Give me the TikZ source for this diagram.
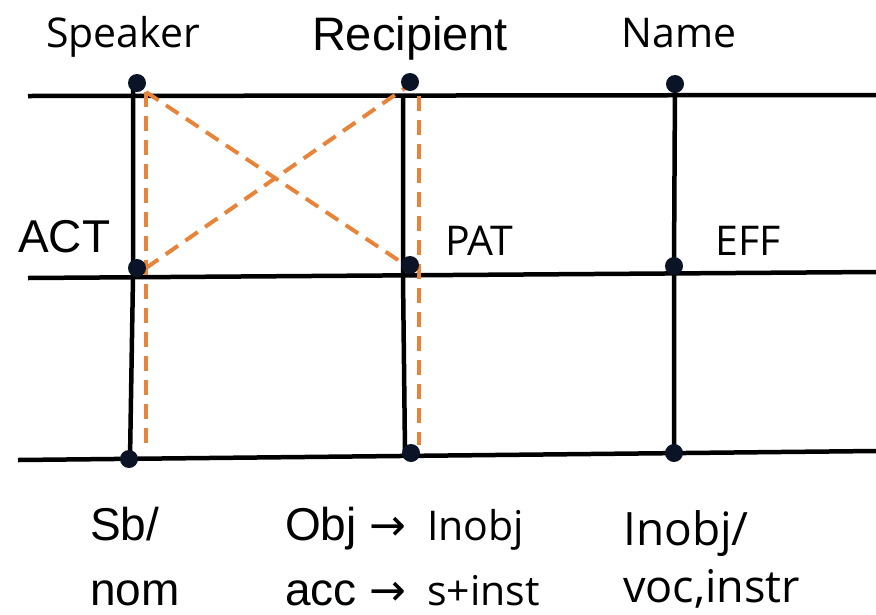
\documentclass[tikz,border=0pt]{standalone}
\usepackage{fontspec}
\setmainfont{Liberation Sans}
\newfontfamily\segfont{Open Sans}
\newfontfamily\arrowfont{DejaVu Sans}
\definecolor{linkorange}{HTML}{E8843A}
\definecolor{dotnavy}{HTML}{0B1427}
\begin{document}
\begin{tikzpicture}[x=1pt,y=-1pt,
  rail/.style={line width=4.5pt, black},
  link/.style={line width=4pt, linkorange, dash pattern=on 15pt off 9pt},
  joint/.style={circle, fill=dotnavy, inner sep=0pt, minimum size=18pt},
  lblA/.style={font=\fontsize{46}{56}\selectfont, inner sep=0pt},
  lblB/.style={font=\segfont\fontsize{41}{50}\selectfont, inner sep=0pt}]
\useasboundingbox (0,0) rectangle (876,614);
\fill[white] (0,0) rectangle (876,614);

% rail end points
\coordinate (tl) at (28,96);   \coordinate (tr) at (876,95);
\coordinate (ml) at (28,278);  \coordinate (mr) at (876,272);
\coordinate (bl) at (18,460);  \coordinate (br) at (876,451);

% joints on the three columns
\coordinate (s1) at (137,83);  \coordinate (s2) at (137,268); \coordinate (s3) at (129,459);
\coordinate (r1) at (410,82);  \coordinate (r2) at (410,265); \coordinate (r3) at (411,453);
\coordinate (n1) at (675,84);  \coordinate (n2) at (674,266); \coordinate (n3) at (674,453);

% column lines
\coordinate (st) at (133,86);  \coordinate (sm) at (133,277); \coordinate (sb) at (130,459);
\coordinate (rt) at (403,96);  \coordinate (rm) at (403,277); \coordinate (rb) at (405,452);

% ends of the dashed links
\coordinate (oa1) at (146,92);  \coordinate (oa2) at (146,445);
\coordinate (ob1) at (419,96);  \coordinate (ob2) at (419,445);
\coordinate (oc1) at (146,268); \coordinate (oc2) at (405,88);
\coordinate (od2) at (401,262);

% horizontal rails
\draw[rail] (tl) -- (tr);
\draw[rail] (ml) -- (mr);
\draw[rail] (bl) -- (br);

% vertical columns
\draw[rail] (st) -- (sm) -- (sb);
\draw[rail] (rt) -- (rm) -- (rb);
\draw[rail] (n1) -- (n2) -- (n3);

% dashed links
\draw[link] (oa1) -- (oa2);
\draw[link] (ob1) -- (ob2);
\draw[link] (oa1) -- (od2);
\draw[link] (oc1) -- (oc2);

% joints
\foreach \p in {s1,s2,s3,r1,r2,r3,n1,n2,n3}
  \node[joint] (j\p) at (\p) {};

% labels
\node[lblB, anchor=base] (speaker) at (123,47) {Speaker};
\node[lblA, anchor=base, font=\fontsize{47}{56}\selectfont] (recipient) at (410,50) {Recipient};
\node[lblB, anchor=base] (name) at (679,47) {Name};
\node[lblA, anchor=base west] (act) at (18,252) {ACT};
\node[lblB, anchor=base west] (pat) at (445,255) {PAT};
\node[lblB, anchor=base west] (eff) at (715,255) {EFF};

\node[lblA, anchor=base west] (sb) at (90,540) {Sb/};
\node[lblA, anchor=base west] (nom) at (90,605) {nom};
\node[lblA, anchor=base west] (obj) at (285,540) {Obj {\arrowfont\fontsize{44}{50}\selectfont →}};
\node[lblB, anchor=base west] (inobjA) at (427,540) {Inobj};
\node[lblA, anchor=base west] (acc) at (285,605) {acc {\arrowfont\fontsize{44}{50}\selectfont →}};
\node[lblB, anchor=base west] (sinst) at (427,605) {s+inst};
\node[lblA, anchor=base west] (inobjB) at (623,545) {\segfont Inobj/};
\node[lblA, anchor=base west, font=\segfont\fontsize{45}{54}\selectfont] (voc) at (623,602) {voc,instr};
\end{tikzpicture}
\end{document}
